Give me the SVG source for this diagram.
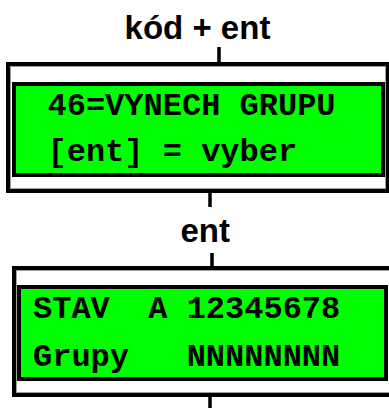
<svg xmlns="http://www.w3.org/2000/svg" width="389" height="408" viewBox="0 0 389 408">
<style>
.outer{fill:#fff;stroke:#000;stroke-width:4}
.rim{fill:none;stroke:#a0a0a0;stroke-width:1}
.lcd{fill:#00ff00;stroke:#000;stroke-width:4}
.mono{font-family:"Liberation Mono","Courier New",monospace;font-weight:bold;font-size:32px;fill:#000;white-space:pre}
.lbl{font-family:"Liberation Sans",Arial,sans-serif;font-weight:bold;font-size:33px;fill:#000}
.conn{stroke:#000;stroke-width:3.5;fill:none}
</style>
<rect width="389" height="408" fill="#fff"/>
<g id="connectors">
<line class="conn" x1="219" y1="47" x2="219" y2="63"/>
<line class="conn" x1="210" y1="192" x2="210" y2="207"/>
<line class="conn" x1="212" y1="253" x2="212" y2="268"/>
<line class="conn" x1="210" y1="396" x2="210" y2="408"/>
<text class="lbl" x="124.6" y="39">kód + ent</text>
<text class="lbl" x="180.4" y="242">ent</text>
</g>
<g id="node1">
<rect class="outer" x="8" y="64" width="380" height="127"/>
<rect class="rim" x="10.5" y="66.5" width="375" height="122"/>
<rect class="lcd" x="14" y="84" width="369" height="91"/>
<text class="mono" x="47.5" y="115">46=VYNECH GRUPU</text>
<text class="mono" x="47.5" y="161">[ent] = vyber</text>
</g>
<g id="node2">
<rect class="outer" x="14" y="268" width="380" height="127"/>
<rect class="rim" x="16.5" y="270.5" width="375" height="122"/>
<rect class="lcd" x="19" y="287" width="367" height="92"/>
<text class="mono" x="33" y="318" xml:space="preserve">STAV  A 12345678</text>
<text class="mono" x="33" y="366" xml:space="preserve">Grupy   NNNNNNNN</text>
</g>
</svg>
